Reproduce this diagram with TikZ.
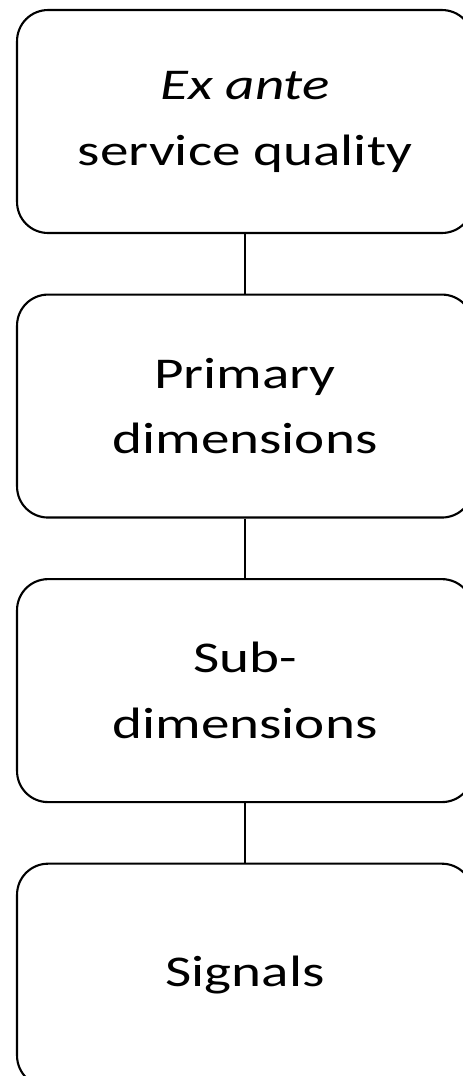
\documentclass[tikz,border=0pt]{standalone}
\usepackage{fontspec}
\setmainfont{Carlito}[FakeStretch=1.3]
\usetikzlibrary{positioning}

\begin{document}
\begin{tikzpicture}[x=0.02cm,y=-0.02cm,
    levelbox/.style={draw,line width=1.2pt,rounded corners=0.62cm,minimum width=9.12cm,minimum height=4.46cm,align=center,font=\fontsize{25}{37.5}\selectfont},
    node distance=1.19cm]
    \useasboundingbox (0,0) rectangle (463,1076);
    \node[levelbox] (exante) at (245,121.5) {\textit{Ex ante}\\service quality};
    \node[levelbox,below=of exante] (primary) {Primary\\dimensions};
    \node[levelbox,below=of primary] (sub) {Sub-\\dimensions};
    \node[levelbox,below=of sub] (signals) {Signals};
    \draw[line width=1.2pt] (exante)--(primary) (primary)--(sub) (sub)--(signals);
\end{tikzpicture}
\end{document}
